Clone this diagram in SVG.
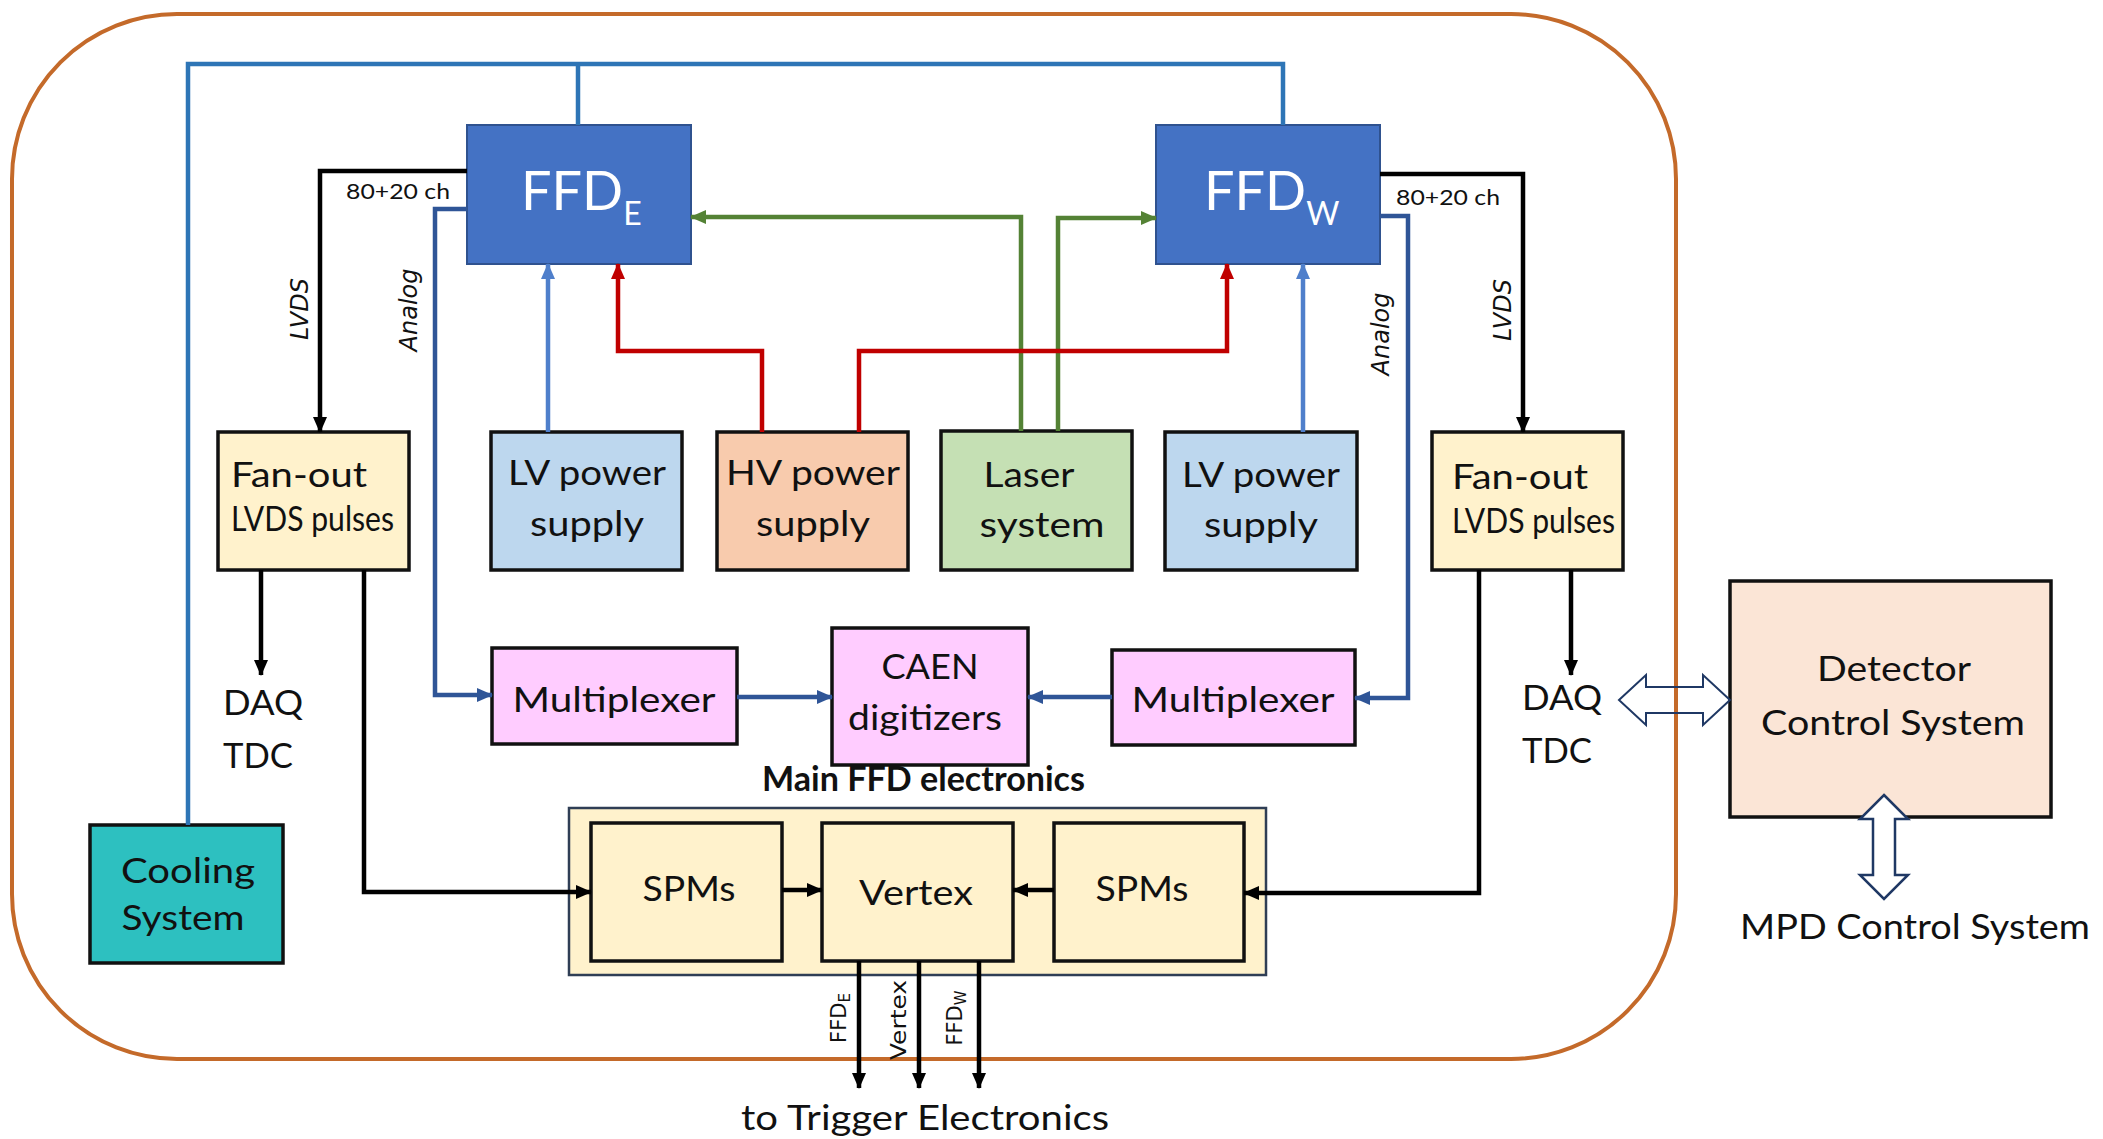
<svg xmlns="http://www.w3.org/2000/svg" width="2103" height="1139" viewBox="0 0 2103 1139">
<style>
.box{stroke:#111;stroke-width:3.5}
.t{font-family:Lato,"Liberation Sans",sans-serif;fill:#111;font-size:34px}
.c{text-anchor:middle}
.small{font-family:Lato,"Liberation Sans",sans-serif;fill:#111;font-size:22px}
.rot{font-family:"DejaVu Sans",sans-serif;fill:#111;font-style:italic;font-size:24px;text-anchor:middle}
.vl{font-family:"DejaVu Sans",sans-serif;fill:#111;font-size:21px;text-anchor:middle}
.ln{fill:none;stroke-width:4.5;stroke-linejoin:miter}
</style>
<defs>
<marker id="aK" markerUnits="userSpaceOnUse" markerWidth="16" markerHeight="14" refX="15" refY="7" orient="auto"><path d="M0,0 L16,7 L0,14 z" fill="#000"/></marker>
<marker id="aB" markerUnits="userSpaceOnUse" markerWidth="16" markerHeight="14" refX="15" refY="7" orient="auto"><path d="M0,0 L16,7 L0,14 z" fill="#4F7FCB"/></marker>
<marker id="aD" markerUnits="userSpaceOnUse" markerWidth="16" markerHeight="14" refX="15" refY="7" orient="auto"><path d="M0,0 L16,7 L0,14 z" fill="#2F5597"/></marker>
<marker id="aR" markerUnits="userSpaceOnUse" markerWidth="16" markerHeight="14" refX="15" refY="7" orient="auto"><path d="M0,0 L16,7 L0,14 z" fill="#C00000"/></marker>
<marker id="aG" markerUnits="userSpaceOnUse" markerWidth="16" markerHeight="14" refX="15" refY="7" orient="auto"><path d="M0,0 L16,7 L0,14 z" fill="#548235"/></marker>
</defs>
<rect width="2103" height="1139" fill="#fff"/>
<rect id="enclosure" x="12" y="14" width="1664" height="1045" rx="165" ry="165" fill="none" stroke="#C46A2A" stroke-width="4"/>

<g id="ffd_e">
<rect x="467" y="125" width="224" height="139" fill="#4472C4" stroke="#2F528F" stroke-width="2"/>
<text x="521" y="210" font-family="Lato,'Liberation Sans',sans-serif" font-size="54" fill="#fff">FFD<tspan font-size="32" dy="15">E</tspan></text>
</g>
<g id="ffd_w">
<rect x="1156" y="125" width="224" height="139" fill="#4472C4" stroke="#2F528F" stroke-width="2"/>
<text x="1204" y="210" font-family="Lato,'Liberation Sans',sans-serif" font-size="54" fill="#fff">FFD<tspan font-size="32" dy="15">W</tspan></text>
</g>

<g id="fanout_left">
<rect class="box" x="218" y="432" width="191" height="138" fill="#FFF2CC"/>
<text class="t" x="231" y="487" textLength="136" lengthAdjust="spacingAndGlyphs">Fan-out</text>
<text class="t" x="231" y="531" font-size="25" textLength="163" lengthAdjust="spacingAndGlyphs">LVDS pulses</text>
</g>
<g id="lv_left">
<rect class="box" x="491" y="432" width="191" height="138" fill="#BDD7EE"/>
<text class="t c" x="587" y="485" textLength="158" lengthAdjust="spacingAndGlyphs">LV power</text>
<text class="t c" x="587" y="536" textLength="114" lengthAdjust="spacingAndGlyphs">supply</text>
</g>
<g id="hv">
<rect class="box" x="717" y="432" width="191" height="138" fill="#F8CBAD"/>
<text class="t c" x="813" y="485" textLength="174" lengthAdjust="spacingAndGlyphs">HV power</text>
<text class="t c" x="813" y="536" textLength="114" lengthAdjust="spacingAndGlyphs">supply</text>
</g>
<g id="laser">
<rect class="box" x="941" y="431" width="191" height="139" fill="#C5E0B4"/>
<text class="t c" x="1029" y="487" textLength="91" lengthAdjust="spacingAndGlyphs">Laser</text>
<text class="t c" x="1042" y="537" textLength="125" lengthAdjust="spacingAndGlyphs">system</text>
</g>
<g id="lv_right">
<rect class="box" x="1165" y="432" width="192" height="138" fill="#BDD7EE"/>
<text class="t c" x="1261" y="487" textLength="158" lengthAdjust="spacingAndGlyphs">LV power</text>
<text class="t c" x="1261" y="537" textLength="114" lengthAdjust="spacingAndGlyphs">supply</text>
</g>
<g id="fanout_right">
<rect class="box" x="1432" y="432" width="191" height="138" fill="#FFF2CC"/>
<text class="t" x="1452" y="489" textLength="136" lengthAdjust="spacingAndGlyphs">Fan-out</text>
<text class="t" x="1452" y="533" font-size="25" textLength="163" lengthAdjust="spacingAndGlyphs">LVDS pulses</text>
</g>
<g id="mux_left">
<rect class="box" x="492" y="648" width="245" height="96" fill="#FFCCFF"/>
<text class="t c" x="614" y="712" textLength="203" lengthAdjust="spacingAndGlyphs">Multiplexer</text>
</g>
<g id="caen">
<rect class="box" x="832" y="628" width="196" height="137" fill="#FFCCFF"/>
<text class="t c" x="930" y="679" textLength="97" lengthAdjust="spacingAndGlyphs">CAEN</text>
<text class="t c" x="925" y="730" textLength="154" lengthAdjust="spacingAndGlyphs">digitizers</text>
</g>
<g id="mux_right">
<rect class="box" x="1112" y="650" width="243" height="95" fill="#FFCCFF"/>
<text class="t c" x="1233" y="712" textLength="203" lengthAdjust="spacingAndGlyphs">Multiplexer</text>
</g>
<g id="cooling">
<rect class="box" x="90" y="825" width="193" height="138" fill="#2DC0C0"/>
<text class="t c" x="188" y="883" textLength="134" lengthAdjust="spacingAndGlyphs">Cooling</text>
<text class="t c" x="183" y="930" textLength="123" lengthAdjust="spacingAndGlyphs">System</text>
</g>
<g id="main_ffd">
<rect x="569" y="808" width="697" height="167" fill="#FFF2CC" stroke="#2F3E55" stroke-width="2.5"/>
</g>
<g id="spms_left">
<rect class="box" x="591" y="823" width="191" height="138" fill="#FFF2CC"/>
<text class="t c" x="689" y="901" textLength="93" lengthAdjust="spacingAndGlyphs">SPMs</text>
</g>
<g id="vertex">
<rect class="box" x="822" y="823" width="191" height="138" fill="#FFF2CC"/>
<text class="t c" x="916" y="905" textLength="114" lengthAdjust="spacingAndGlyphs">Vertex</text>
</g>
<g id="spms_right">
<rect class="box" x="1054" y="823" width="190" height="138" fill="#FFF2CC"/>
<text class="t c" x="1142" y="901" textLength="93" lengthAdjust="spacingAndGlyphs">SPMs</text>
</g>
<g id="dcs">
<rect class="box" x="1730" y="581" width="321" height="236" fill="#FBE5D6"/>
<text class="t c" x="1894" y="681" textLength="154" lengthAdjust="spacingAndGlyphs">Detector</text>
<text class="t c" x="1893" y="735" textLength="264" lengthAdjust="spacingAndGlyphs">Control System</text>
</g>

<g id="connectors">
<path class="ln" d="M188,825 V64 H1283 V125" stroke="#2E75B6" stroke-width="5"/>
<path class="ln" d="M578,64 V125" stroke="#2E75B6" stroke-width="5"/>
<path class="ln" d="M467,171 H320 V432" stroke="#000" marker-end="url(#aK)"/>
<path class="ln" d="M1380,174 H1523 V432" stroke="#000" marker-end="url(#aK)"/>
<path class="ln" d="M467,209 H435 V695 H492" stroke="#2F5597" marker-end="url(#aD)"/>
<path class="ln" d="M1380,216 H1408 V698 H1355" stroke="#2F5597" marker-end="url(#aD)"/>
<path class="ln" d="M1021,431 V217 H691" stroke="#548235" marker-end="url(#aG)"/>
<path class="ln" d="M1058,431 V218 H1156" stroke="#548235" marker-end="url(#aG)"/>
<path class="ln" d="M762,432 V351 H618 V264" stroke="#C00000" marker-end="url(#aR)"/>
<path class="ln" d="M859,432 V351 H1227 V264" stroke="#C00000" marker-end="url(#aR)"/>
<path class="ln" d="M548,432 V264" stroke="#4F7FCB" marker-end="url(#aB)"/>
<path class="ln" d="M1303,432 V264" stroke="#4F7FCB" marker-end="url(#aB)"/>
<path class="ln" d="M737,697 H832" stroke="#2F5597" stroke-width="5" marker-end="url(#aD)"/>
<path class="ln" d="M1112,697 H1028" stroke="#2F5597" stroke-width="5" marker-end="url(#aD)"/>
<path class="ln" d="M261,570 V675" stroke="#000" marker-end="url(#aK)"/>
<path class="ln" d="M1571,570 V675" stroke="#000" marker-end="url(#aK)"/>
<path class="ln" d="M364,570 V892 H591" stroke="#000" marker-end="url(#aK)"/>
<path class="ln" d="M1479,570 V893 H1244" stroke="#000" marker-end="url(#aK)"/>
<path class="ln" d="M782,890 H822" stroke="#000" marker-end="url(#aK)"/>
<path class="ln" d="M1054,890 H1013" stroke="#000" marker-end="url(#aK)"/>
<path class="ln" d="M859,961 V1088" stroke="#000" marker-end="url(#aK)"/>
<path class="ln" d="M919,961 V1088" stroke="#000" marker-end="url(#aK)"/>
<path class="ln" d="M979,961 V1088" stroke="#000" marker-end="url(#aK)"/>
<polygon points="1619,700 1646,675 1646,687 1703,687 1703,675 1730,700 1703,725 1703,713 1646,713 1646,725" fill="none" stroke="#1F3864" stroke-width="2"/>
<polygon points="1884,795 1908,819 1895,819 1895,875 1908,875 1884,899 1860,875 1873,875 1873,819 1860,819" fill="#fff" stroke="#1F3864" stroke-width="2.5"/>
</g>

<g id="labels">
<text class="small" x="346" y="199" textLength="104" lengthAdjust="spacingAndGlyphs">80+20 ch</text>
<text class="small" x="1396" y="205" textLength="104" lengthAdjust="spacingAndGlyphs">80+20 ch</text>
<text class="rot" transform="translate(308,309) rotate(-90)">LVDS</text>
<text class="rot" transform="translate(1511,310) rotate(-90)">LVDS</text>
<text class="rot" transform="translate(417,310) rotate(-90)" font-size="26">Analog</text>
<text class="rot" transform="translate(1389,334) rotate(-90)" font-size="26">Analog</text>
<text class="t" x="223" y="715" textLength="80" lengthAdjust="spacingAndGlyphs">DAQ</text>
<text class="t" x="223" y="768" textLength="70" lengthAdjust="spacingAndGlyphs">TDC</text>
<text class="t" x="1522" y="710" textLength="80" lengthAdjust="spacingAndGlyphs">DAQ</text>
<text class="t" x="1522" y="763" textLength="70" lengthAdjust="spacingAndGlyphs">TDC</text>
<text class="t" x="762" y="791" font-weight="bold" font-size="29" textLength="323" lengthAdjust="spacingAndGlyphs">Main FFD electronics</text>
<text class="vl" transform="translate(846,1018) rotate(-90)">FFD<tspan font-size="15" dy="4">E</tspan></text>
<text class="vl" transform="translate(906,1020) rotate(-90)" textLength="80" lengthAdjust="spacingAndGlyphs">Vertex</text>
<text class="vl" transform="translate(962,1018) rotate(-90)">FFD<tspan font-size="15" dy="4">W</tspan></text>
<text class="t" x="741" y="1130" textLength="368" lengthAdjust="spacingAndGlyphs">to Trigger Electronics</text>
<text class="t" x="1740" y="939" textLength="350" lengthAdjust="spacingAndGlyphs">MPD Control System</text>
</g>
</svg>
